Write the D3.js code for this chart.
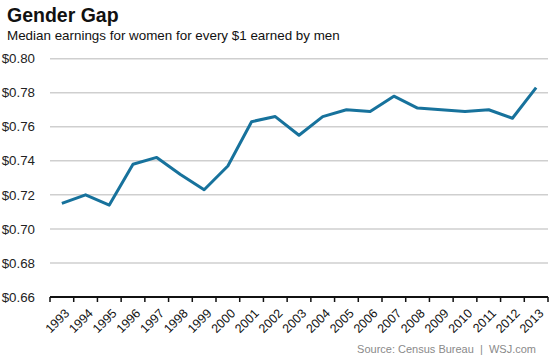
<!DOCTYPE html>
<html><head><meta charset="utf-8">
<script src="https://cdn.jsdelivr.net/npm/d3@7"></script>
<style>body{margin:0;background:#fff;} svg{display:block;font-family:"Liberation Sans",Arial,sans-serif;}</style>
</head><body>
<svg id="c" width="553" height="360"></svg>
<script>
const years = ["1993","1994","1995","1996","1997","1998","1999","2000","2001","2002","2003","2004","2005","2006","2007","2008","2009","2010","2011","2012","2013"];
const ratio = [0.715,0.720,0.714,0.738,0.742,0.732,0.723,0.737,0.763,0.766,0.755,0.766,0.770,0.769,0.778,0.771,0.770,0.769,0.770,0.765,0.783];
const yTicks = [0.66,0.68,0.70,0.72,0.74,0.76,0.78,0.80];
const title = "Gender Gap";
const subtitle = "Median earnings for women for every $1 earned by men";
const source = "Source: Census Bureau  |  WSJ.com";

const svg = d3.select("#c");
const mLeft = 50, mRight = 548, mTop = 58.7, mBottom = 297;
const x = d3.scaleBand().domain(years).range([mLeft, mRight]).padding(0);
const y = d3.scaleLinear().domain([0.66, 0.80]).range([mBottom, mTop]);

svg.append("text").attr("x", 7).attr("y", 22).attr("font-size", 19.5).attr("font-weight", "bold").attr("fill", "#111").text(title);
svg.append("text").attr("x", 7).attr("y", 40).attr("font-size", 13.4).attr("fill", "#111").text(subtitle);

// gridlines
svg.append("g").selectAll("line").data(yTicks.filter(d => d > 0.66)).join("line")
  .attr("x1", mLeft).attr("x2", mRight).attr("y1", d => y(d)).attr("y2", d => y(d))
  .attr("stroke", "#cfcfcf").attr("stroke-width", 1.5);

// y labels
svg.append("g").selectAll("text").data(yTicks).join("text")
  .attr("x", 35).attr("y", d => y(d)).attr("dy", "0.35em").attr("text-anchor", "end")
  .attr("font-size", 13.3).attr("fill", "#222").text(d => "$" + d.toFixed(2));

// x axis
const xAxis = d3.axisBottom(x).tickSize(5).tickFormat(d => d);
const gx = svg.append("g").attr("transform", `translate(0,${mBottom})`).call(xAxis);
gx.select(".domain").remove();
gx.selectAll(".tick line").attr("stroke", "none");
const bounds = years.map(d => x(d)).concat([mRight]);
gx.selectAll("line.bt").data(bounds).join("line").attr("class","bt")
  .attr("x1", d => d).attr("x2", d => d).attr("y1", 0).attr("y2", 5)
  .attr("stroke", "#111").attr("stroke-width", 1.5);
gx.append("line").attr("x1", mLeft).attr("x2", mRight).attr("y1", 0).attr("y2", 0)
  .attr("stroke", "#111").attr("stroke-width", 2);
gx.selectAll(".tick text")
  .attr("font-size", 12.5).attr("fill", "#111").attr("font-family", "Liberation Sans, Arial, sans-serif")
  .attr("text-anchor", "end")
  .attr("transform", "translate(2,11) rotate(-45)")
  .attr("x", 0).attr("y", 0).attr("dy", "0.7em");

// line
const line = d3.line().x((d, i) => x(years[i]) + x.bandwidth() / 2).y(d => y(d));
svg.append("path").datum(ratio).attr("d", line).attr("fill", "none")
  .attr("stroke", "#17729c").attr("stroke-width", 3).attr("stroke-linejoin", "round");

svg.append("text").attr("x", 536).attr("y", 353).attr("text-anchor", "end")
  .attr("font-size", 11).attr("fill", "#8a8a8a").style("white-space","pre").text(source);
</script>
</body></html>
